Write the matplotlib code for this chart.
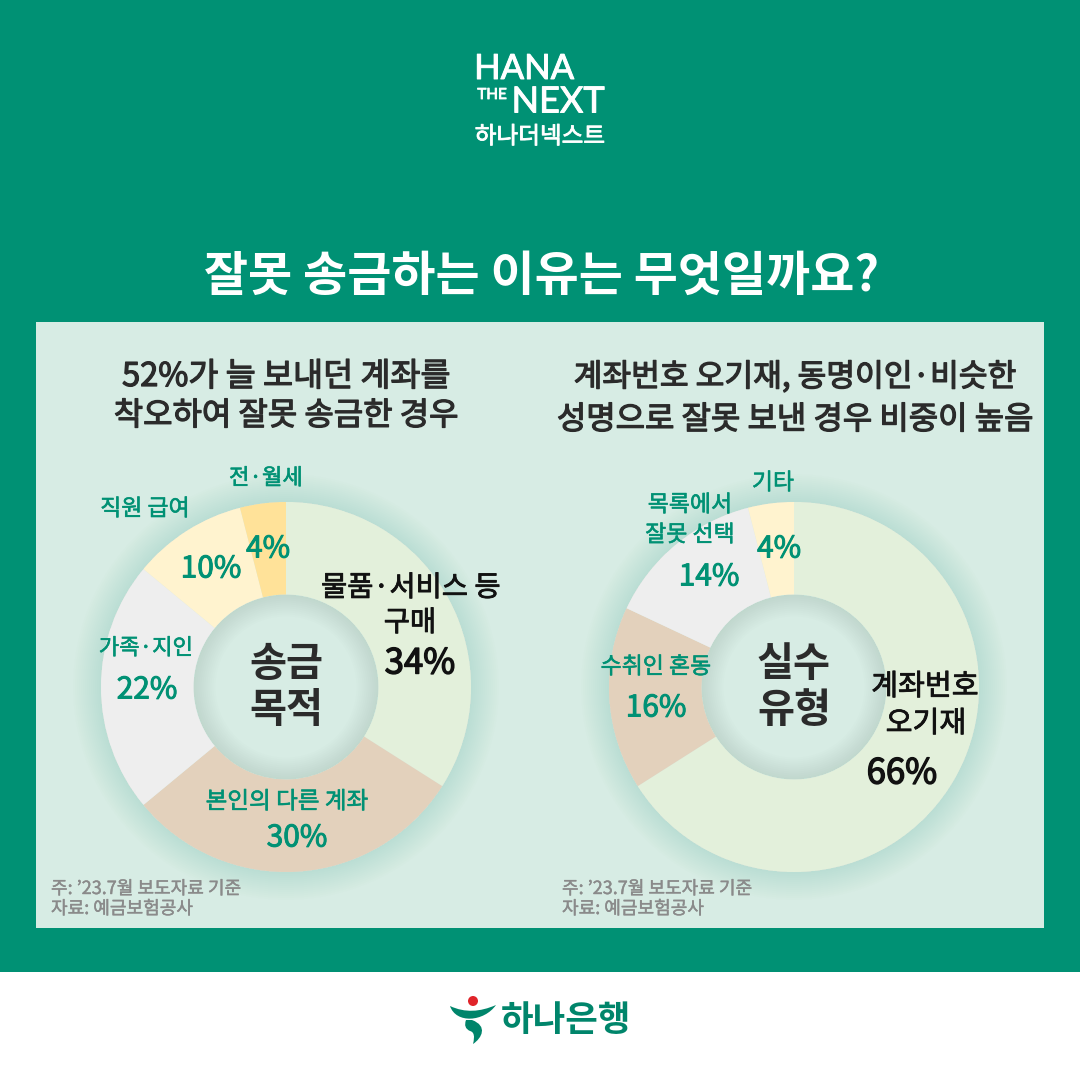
import matplotlib
matplotlib.use('Agg')
import matplotlib.pyplot as plt
import matplotlib.patheffects as pe
from matplotlib.patches import Rectangle, Wedge, Circle, PathPatch
from matplotlib.path import Path

plt.rcParams['font.family'] = ['Noto Sans CJK KR', 'DejaVu Sans']

# data
purpose_labels = ['물품·서비스 등\n구매', '본인의 다른 계좌', '가족·지인', '직원 급여', '전·월세']
purpose_values = [34, 30, 22, 10, 4]
purpose_colors = ['#E3F0DB', '#E3D1BC', '#EEEEEE', '#FFF3CF', '#FFE299']

mistake_labels = ['계좌번호\n오기재', '수취인 혼동', '목록에서\n잘못 선택', '기타']
mistake_values = [66, 16, 14, 4]
mistake_colors = ['#E3F0DB', '#E3D1BC', '#EEEEEE', '#FFF3CF']

GREEN = '#009174'
TEAL = '#009174'
PANEL = '#D7ECE4'
DARK = '#2B2B2B'
GREY = '#8A8A8A'

fig = plt.figure(figsize=(10.8, 10.8), dpi=100, facecolor=GREEN)


def pixel_axes():
    a = fig.add_axes([0, 0, 1, 1])
    a.set_xlim(0, 1080)
    a.set_ylim(1080, 0)
    a.axis('off')
    return a


# background axes in pixel coordinates
bg = pixel_axes()
bg.add_patch(Rectangle((0, 972), 1080, 108, color='white', lw=0))
bg.add_patch(Rectangle((36, 322), 1008, 606, color=PANEL, lw=0))


def donut(cx, cy, values, colors):
    r = 185
    # soft shadow, outside and inside the ring
    for k in range(2, 30, 2):
        bg.add_patch(Wedge((cx, cy), r + k, 0, 360, width=k, color='#5F9C8C', alpha=0.01, lw=0))
    for k in range(2, 24, 2):
        bg.add_patch(Wedge((cx, cy), r / 2, 0, 360, width=k, color='#5F9C8C', alpha=0.014, lw=0))
    ax = fig.add_axes([(cx - r) / 1080, 1 - (cy + r) / 1080, 2 * r / 1080, 2 * r / 1080])
    ax.patch.set_alpha(0)
    ax.pie(values, colors=colors, startangle=90, counterclock=False, radius=1,
           wedgeprops=dict(width=0.5, linewidth=0))
    ax.set_xlim(-1, 1)
    ax.set_ylim(-1, 1)
    return ax


donut(286, 687, purpose_values, purpose_colors)
donut(794, 687, mistake_values, mistake_colors)

# everything written goes on top of the donuts
top = pixel_axes()


def txt(x, y, s, size, color=DARK, stroke=0.5, weight='normal', **kw):
    t = top.text(x, y + 3, s, fontsize=size, color=color, fontweight=weight,
                 ha=kw.pop('ha', 'center'), va='center', **kw)
    if stroke:
        t.set_path_effects([pe.withStroke(linewidth=stroke, foreground=color)])
    return t


# header logo
txt(524, 66, 'HANA', 25, 'white', 0.7, family='Lato')
txt(492, 92, 'THE', 11, 'white', 0.6, family='Lato')
txt(558, 99, 'NEXT', 26, 'white', 0.7, family='Lato')
txt(540, 134, '하나더넥스트', 17, 'white', 0.6)

# title
txt(541, 273, '잘못 송금하는 이유는 무엇일까요?', 34.5, 'white', 0, 'bold')

# panel headings
txt(286, 374, '52%가 늘 보내던 계좌를', 23.5, DARK, 0.9)
txt(286, 413, '착오하여 잘못 송금한 경우', 23, DARK, 0.9)
txt(795, 374, '계좌번호 오기재, 동명이인·비슷한', 22.5, DARK, 0.9)
txt(795, 417, '성명으로 잘못 보낸 경우 비중이 높음', 23, DARK, 0.9)

# left donut labels
txt(411, 585, purpose_labels[0].split('\n')[0], 20.5, '#111111', 0.6)
txt(410, 620, purpose_labels[0].split('\n')[1], 20.5, '#111111', 0.6)
txt(420, 661, f'{purpose_values[0]}%', 25, '#111111', 1)
txt(287, 799, purpose_labels[1], 17, TEAL, 0.4)
txt(297, 835, f'{purpose_values[1]}%', 21.5, TEAL, 0.7)
txt(146, 645, purpose_labels[2], 16, TEAL, 0.4)
txt(147, 687, f'{purpose_values[2]}%', 21.5, TEAL, 0.7)
txt(145, 506, purpose_labels[3], 16.5, TEAL, 0.4)
txt(211, 566, f'{purpose_values[3]}%', 21.5, TEAL, 0.7)
txt(266, 475, purpose_labels[4], 16, TEAL, 0.4)
txt(268, 546, f'{purpose_values[4]}%', 21.5, TEAL, 0.7)
txt(286, 661, '송금', 29, DARK, 0, 'bold')
txt(286, 707, '목적', 29, DARK, 0, 'bold')

# right donut labels
txt(925, 684, mistake_labels[0].split('\n')[0], 21, '#111111', 0.6)
txt(926, 721, mistake_labels[0].split('\n')[1], 21, '#111111', 0.6)
txt(902, 771, f'{mistake_values[0]}%', 25, '#111111', 1)
txt(656, 664, mistake_labels[1], 16.5, TEAL, 0.4)
txt(656, 705, f'{mistake_values[1]}%', 21.5, TEAL, 0.7)
txt(690, 502, mistake_labels[2].split('\n')[0], 16.5, TEAL, 0.4)
txt(690, 532, mistake_labels[2].split('\n')[1], 16.5, TEAL, 0.4)
txt(709, 574, f'{mistake_values[2]}%', 21.5, TEAL, 0.7)
txt(773, 480, mistake_labels[3], 16.5, TEAL, 0.4)
txt(779, 546, f'{mistake_values[3]}%', 21.5, TEAL, 0.7)
txt(794, 661, '실수', 29, DARK, 0, 'bold')
txt(794, 707, '유형', 29, DARK, 0, 'bold')

# notes
for x in (51, 562):
    txt(x, 886, '주: ’23.7월 보도자료 기준', 13, GREY, 0.3, ha='left')
    txt(x, 906, '자료: 예금보험공사', 13, GREY, 0.3, ha='left')

# bottom logo
top.add_patch(Circle((473, 1001), 5, color='#E0242A', lw=0))
swoosh = Path(
    [(450, 1006), (465, 1013), (480, 1012), (496, 1005),
     (484, 1022), (456, 1024), (450, 1006)],
    [Path.MOVETO, Path.CURVE4, Path.CURVE4, Path.CURVE4,
     Path.CURVE4, Path.CURVE4, Path.CURVE4])
top.add_patch(PathPatch(swoosh, color='#00856B', lw=0))
stem = Path(
    [(472, 1020), (488, 1026), (482, 1038), (473, 1044),
     (475, 1036), (474, 1032), (470, 1031),
     (463, 1028), (466, 1020), (472, 1020)],
    [Path.MOVETO, Path.CURVE4, Path.CURVE4, Path.CURVE4,
     Path.CURVE4, Path.CURVE4, Path.CURVE4,
     Path.CURVE3, Path.CURVE3, Path.LINETO])
top.add_patch(PathPatch(stem, color='#00856B', lw=0))
txt(566, 1017, '하나은행', 25.5, '#00856B', 0, 'bold')

fig.savefig('out.png', dpi=100, facecolor=fig.get_facecolor())
